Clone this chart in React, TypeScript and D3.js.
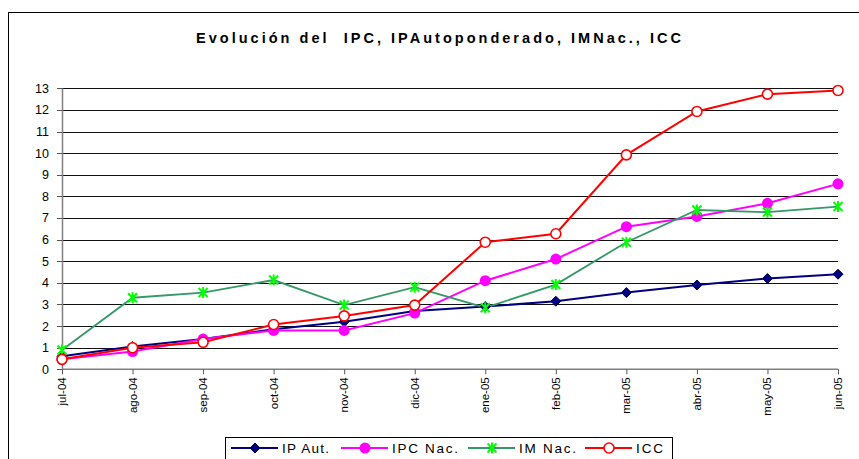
import React from 'react';
import * as d3 from 'd3';

const months = ['jul-04', 'ago-04', 'sep-04', 'oct-04', 'nov-04', 'dic-04', 'ene-05', 'feb-05', 'mar-05', 'abr-05', 'may-05', 'jun-05'];
const ipAut = [0.6, 1.05, 1.4, 1.85, 2.2, 2.7, 2.9, 3.15, 3.55, 3.9, 4.2, 4.4];
const ipcNac = [0.46, 0.82, 1.4, 1.8, 1.8, 2.6, 4.1, 5.1, 6.6, 7.07, 7.68, 8.58];
const imNac = [0.89, 3.31, 3.55, 4.13, 2.97, 3.8, 2.85, 3.92, 5.88, 7.37, 7.27, 7.53];
const icc = [0.46, 1.0, 1.25, 2.07, 2.47, 2.97, 5.88, 6.27, 9.92, 11.93, 12.73, 12.9];
const yTicks = d3.range(0, 14);

const series = [
  { name: 'IP Aut.', values: ipAut, line: '#000080', marker: 'diamond' },
  { name: 'IPC Nac.', values: ipcNac, line: '#FF00FF', marker: 'dot' },
  { name: 'IM Nac.', values: imNac, line: '#339966', marker: 'star' },
  { name: 'ICC', values: icc, line: '#FF0000', marker: 'ring' },
];

const font = 'Arial, "Liberation Sans", sans-serif';

function Marker({ kind, x, y }: { kind: string; x: number; y: number }) {
  if (kind === 'diamond') {
    return <path d={`M${x},${y - 5}L${x + 5},${y}L${x},${y + 5}L${x - 5},${y}Z`} fill="#000080" stroke="#000050" strokeWidth={1} />;
  }
  if (kind === 'dot') {
    return <circle cx={x} cy={y} r={5.5} fill="#FF00FF" />;
  }
  if (kind === 'star') {
    const s = 4.5;
    return (
      <path
        d={`M${x - s},${y - s}L${x + s},${y + s}M${x - s},${y + s}L${x + s},${y - s}M${x},${y - s - 1}L${x},${y + s + 1}`}
        stroke="#00FF00" strokeWidth={2} fill="none" />
    );
  }
  return <circle cx={x} cy={y} r={5} fill="#fff" stroke="#FF0000" strokeWidth={1.6} />;
}

export default function App() {
  const width = 859, height = 459;
  const x = d3.scalePoint<string>().domain(months).range([62, 838]);
  const y = d3.scaleLinear().domain([0, 13]).range([369.3, 88.3]);

  const line = d3.line<number>()
    .x((_, i) => x(months[i]) as number)
    .y(d => y(d));

  const legendX = [231, 341, 468, 585];
  const legendTextW = [47, 66, 57, 27];

  return (
    <svg width={width} height={height} style={{ position: 'absolute', left: 0, top: 0, background: '#fff' }}>
      <rect x={8.5} y={12.5} width={width + 10} height={height + 10} fill="#fff" stroke="#000" strokeWidth={1} />

      <text x={196} y={43} fontFamily={font} fontWeight="bold" fontSize={14.5}
        textLength={485} lengthAdjust="spacing" fill="#000" style={{ whiteSpace: 'pre' }}>
        {'Evolución del  IPC, IPAutoponderado, IMNac., ICC'}
      </text>

      {/* grid */}
      {yTicks.filter(t => t > 0).map(t => (
        <line key={t} x1={62} x2={838} y1={Math.round(y(t)) + 0.5} y2={Math.round(y(t)) + 0.5} stroke="#111" strokeWidth={1} />
      ))}

      {/* axes */}
      <line x1={62.5} x2={62.5} y1={y(13)} y2={y(0)} stroke="#808080" strokeWidth={1.5} />
      <line x1={62} x2={838} y1={y(0)} y2={y(0)} stroke="#808080" strokeWidth={1.5} />
      {yTicks.map(t => (
        <g key={t}>
          <line x1={57} x2={62} y1={Math.round(y(t)) + 0.5} y2={Math.round(y(t)) + 0.5} stroke="#555" />
          <text x={49} y={y(t)} dy="0.36em" textAnchor="end" fontFamily={font} fontSize={12.5} fill="#000">{t}</text>
        </g>
      ))}
      {months.map(m => (
        <g key={m}>
          <line x1={(x(m) as number) + 0.5} x2={(x(m) as number) + 0.5} y1={y(0)} y2={y(0) + 5} stroke="#555" />
          <text transform={`translate(${(x(m) as number) + 4},${y(0) + 8}) rotate(-90)`} textAnchor="end"
            fontFamily={font} fontSize={11.5} fill="#000">{m}</text>
        </g>
      ))}

      {/* series */}
      {series.map(s => (
        <path key={s.name} d={line(s.values) || ''} fill="none" stroke={s.line} strokeWidth={s.marker === 'star' ? 1.8 : 2} />
      ))}
      {series.map(s => (
        <g key={s.name + 'm'}>
          {s.values.map((v, i) => (
            <Marker key={i} kind={s.marker} x={x(months[i]) as number} y={y(v)} />
          ))}
        </g>
      ))}

      {/* legend */}
      <rect x={225.5} y={437.5} width={447} height={25} fill="#fff" stroke="#000" strokeWidth={1} />
      {series.map((s, i) => (
        <g key={s.name + 'l'}>
          <line x1={legendX[i]} x2={legendX[i] + 47} y1={448} y2={448} stroke={s.line} strokeWidth={2} />
          <Marker kind={s.marker} x={legendX[i] + 24} y={448} />
          <text x={legendX[i] + 51} y={448} dy="0.36em" fontFamily={font} fontSize={13.5}
            textLength={legendTextW[i]} lengthAdjust="spacing" fill="#000">{s.name}</text>
        </g>
      ))}
    </svg>
  );
}
